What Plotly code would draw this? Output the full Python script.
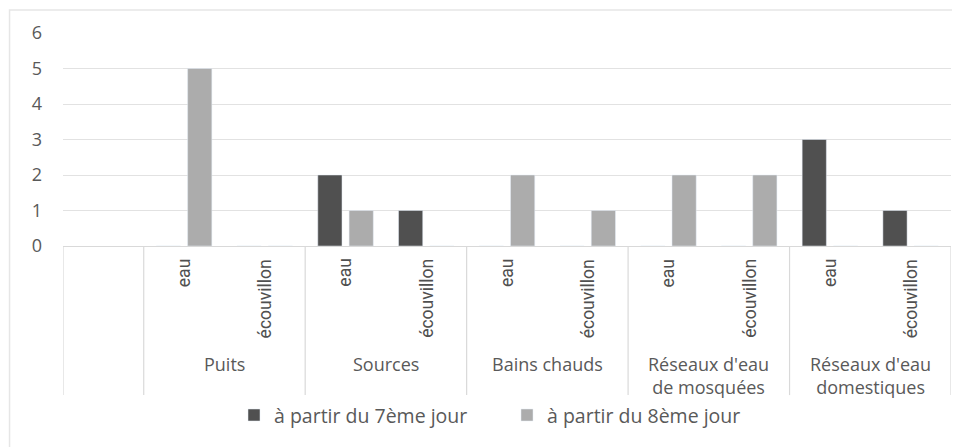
import plotly.graph_objects as go

groups = ["Puits", "Sources", "Bains chauds", "Réseaux d'eau<br>de mosquées", "Réseaux d'eau<br>domestiques"]
subs = ["eau", "écouvillon"]
series_names = ["à partir du 7ème jour", "à partir du 8ème jour"]
jour7 = [0, 0, 2, 1, 0, 0, 0, 0, 3, 1]
jour8 = [5, 0, 1, 0, 2, 1, 2, 2, 0, 0]
y_ticks = [0, 1, 2, 3, 4, 5, 6]

# category keys: first an empty slot, then group/sub pairs
keys = [" "] + [f"{g}|{s}" for g in groups for s in subs]
data_keys = keys[1:]

TXT = "#595959"
fig = go.Figure()
fig.add_trace(go.Bar(x=data_keys, y=jour7, name=series_names[0], marker=dict(color="#505050")))
fig.add_trace(go.Bar(x=data_keys, y=jour8, name=series_names[1], marker=dict(color="#acacac")))

ann = []
for i, k in enumerate(data_keys):
    sub = k.split("|")[1]
    ann.append(dict(x=k, xref="x", y=-0.052, yref="paper", text=sub, textangle=-90,
                    showarrow=False, xanchor="center", yanchor="top",
                    font=dict(family="Roboto", size=17.5, color="#505050")))
for gi, g in enumerate(groups):
    ann.append(dict(x=1 + 2 * gi + 0.5, xref="x", y=-0.49, yref="paper", text=g,
                    showarrow=False, xanchor="center", yanchor="top",
                    font=dict(family="Open Sans", size=18, color=TXT)))

shapes = []
for xb in [-0.5, 0.5, 2.5, 4.5, 6.5, 8.5, 10.5]:
    shapes.append(dict(type="line", xref="x", yref="paper", x0=xb, x1=xb, y0=0, y1=-0.70,
                       line=dict(color="#d9d9d9", width=1.2)))
shapes.append(dict(type="rect", xref="paper", yref="paper", x0=-0.0602, x1=1.03, y0=-1.2, y1=1.108,
                   line=dict(color="#e6e6e6", width=1.5), layer="below"))

fig.update_layout(
    width=952, height=439,
    margin=dict(l=55, r=9, t=25, b=201),
    paper_bgcolor="white", plot_bgcolor="white",
    barmode="group", bargap=0.225, bargroupgap=0.226,
    font=dict(family="Open Sans", color=TXT, size=16),
    xaxis=dict(type="category", categoryorder="array", categoryarray=keys,
               showticklabels=False, showgrid=False, showline=True, linecolor="#d9d9d9",
               linewidth=1.2, range=[-0.5, 10.5], fixedrange=True),
    yaxis=dict(range=[0, 6], tickvals=y_ticks, showgrid=True, gridcolor="#e2e2e2", gridwidth=1.2,
               zeroline=False, showline=False, ticklabelstandoff=20,
               tickfont=dict(family="Open Sans", size=18, color=TXT)),
    legend=dict(orientation="h", x=0.5, xanchor="center", y=-0.795, yanchor="middle",
                font=dict(family="Open Sans", size=19.5, color=TXT), itemwidth=30,
                entrywidth=228, entrywidthmode="pixels",
                traceorder="normal"),
    annotations=ann, shapes=shapes,
)

fig.write_html("out.html")
